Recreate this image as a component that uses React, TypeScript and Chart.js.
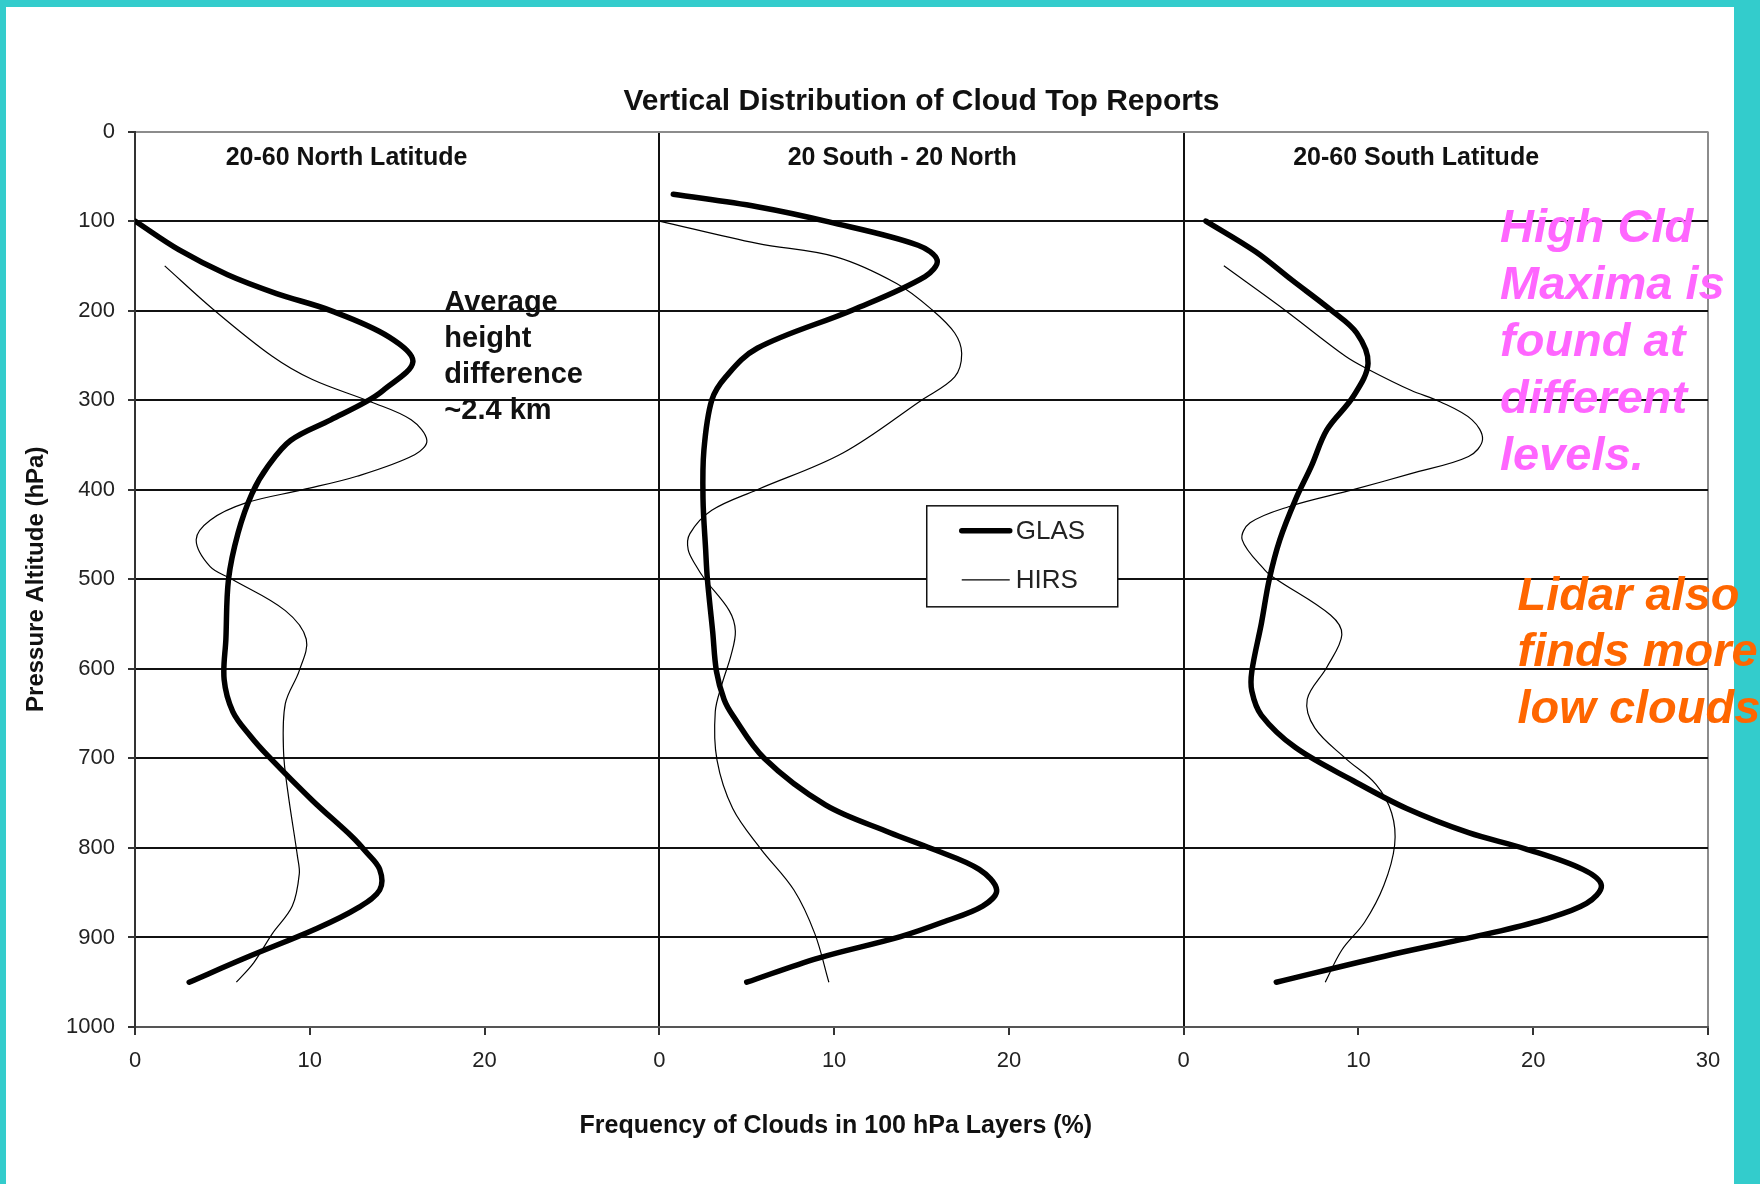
import React, { useEffect, useRef } from 'react';
import { Chart, registerables } from 'chart.js';

Chart.register(...registerables);

const CANVAS_W = 1760;
const CANVAS_H = 1184;
const FONT = '"Liberation Sans", Arial, Helvetica, sans-serif';
const PANEL_SPAN = 30; // each latitude band gets its own 0–30 % frequency window

// 20-60 North Latitude
const nhGlasPressure = [100, 132, 160, 181, 200, 229, 257, 289, 302, 322, 345, 374, 404, 448, 500, 567, 612, 648, 675, 697, 747, 788, 804, 824, 847, 867, 890, 923, 950];
const nhGlasFreq = [0, 2.5, 5.3, 8.1, 11.2, 14.5, 15.9, 14.2, 13.2, 11.2, 8.9, 7.6, 6.7, 5.9, 5.35, 5.2, 5.1, 5.6, 6.6, 7.6, 10.15, 12.45, 13.2, 14.0, 14.0, 12.75, 10.4, 6.3, 3.1];
const nhHirsPressure = [150, 199, 251, 277, 302, 322, 345, 361, 385, 400, 415, 434, 456, 486, 500, 535, 567, 602, 639, 693, 738, 810, 829, 865, 896, 928, 950];
const nhHirsFreq = [1.7, 4.5, 7.85, 10.15, 13.5, 15.8, 16.7, 16.0, 12.7, 9.6, 6.3, 4.3, 3.5, 4.3, 5.55, 8.6, 9.8, 9.4, 8.6, 8.5, 8.75, 9.3, 9.4, 9.0, 7.85, 6.8, 5.8];

// 20 South - 20 North
const trGlasPressure = [70, 84, 101, 127, 144, 162, 199, 242, 274, 300, 356, 411, 467, 500, 558, 603, 634, 652, 700, 752, 783, 801, 824, 847, 865, 883, 899, 923, 950];
const trGlasFreq = [0.8, 5.6, 9.7, 14.8, 15.9, 15.2, 11.1, 5.6, 3.8, 3.0, 2.55, 2.5, 2.65, 2.75, 3.05, 3.27, 3.7, 4.2, 6.0, 9.5, 13.2, 15.6, 18.3, 19.3, 18.5, 16.2, 13.8, 9.1, 5.0];
const trHirsPressure = [100, 125, 140, 170, 199, 225, 248, 274, 300, 359, 400, 423, 449, 467, 485, 500, 535, 558, 585, 616, 648, 702, 756, 801, 847, 896, 950];
const trHirsFreq = [0, 5.6, 10.1, 13.6, 15.6, 16.9, 17.3, 16.9, 15.0, 10.5, 5.6, 3.0, 1.75, 1.65, 2.1, 2.6, 4.0, 4.35, 4.1, 3.6, 3.2, 3.3, 4.2, 5.8, 7.7, 8.9, 9.7];

// 20-60 South Latitude
const shGlasPressure = [100, 134, 166, 199, 225, 259, 296, 333, 374, 411, 456, 500, 549, 603, 625, 652, 688, 725, 756, 783, 801, 824, 842, 862, 880, 896, 919, 950];
const shGlasFreq = [1.27, 4.1, 6.2, 8.4, 9.9, 10.55, 9.7, 8.2, 7.3, 6.4, 5.5, 4.9, 4.45, 3.9, 3.9, 4.45, 6.4, 9.7, 12.76, 16.3, 19.55, 22.84, 23.9, 23.05, 20.6, 17.36, 11.9, 5.3];
const shHirsPressure = [150, 199, 251, 266, 289, 302, 322, 344, 363, 382, 400, 419, 437, 456, 490, 500, 540, 562, 598, 634, 666, 700, 729, 761, 797, 842, 883, 914, 950];
const shHirsFreq = [2.3, 5.76, 9.26, 10.6, 13.0, 14.7, 16.5, 17.1, 16.3, 13.0, 9.7, 6.0, 3.8, 3.35, 4.66, 5.3, 8.4, 9.05, 8.2, 7.07, 7.5, 9.26, 11.0, 11.9, 12.07, 11.45, 10.35, 9.05, 8.1];

const panelTitles = ['20-60 North Latitude', '20 South - 20 North', '20-60 South Latitude'];
const seriesNames = ['GLAS', 'HIRS'];
const xTickLabels = ['0', '10', '20', '0', '10', '20', '0', '10', '20', '30'];
const yTickLabels = ['0', '100', '200', '300', '400', '500', '600', '700', '800', '900', '1000'];
const chartTitle = 'Vertical Distribution of Cloud Top Reports';
const xAxisTitle = 'Frequency of Clouds in 100 hPa Layers (%)';
const yAxisTitle = 'Pressure Altitude (hPa)';
const noteLines = ['Average', 'height', 'difference', '~2.4 km'];
const highCloudLines = ['High Cld', 'Maxima is', 'found at', 'different', 'levels.'];
const lowCloudLines = ['Lidar also', 'finds more', 'low clouds'];

const GLAS_WIDTH = 5.5;
const HIRS_WIDTH = 1.2;

function toPoints(pressure: number[], freq: number[], panel: number) {
  return pressure.map((p, i) => ({ x: panel * PANEL_SPAN + freq[i], y: p }));
}

const regionSeries = [
  { glas: [nhGlasPressure, nhGlasFreq], hirs: [nhHirsPressure, nhHirsFreq] },
  { glas: [trGlasPressure, trGlasFreq], hirs: [trHirsPressure, trHirsFreq] },
  { glas: [shGlasPressure, shGlasFreq], hirs: [shHirsPressure, shHirsFreq] },
];

function buildDatasets() {
  const sets: any[] = [];
  regionSeries.forEach((r, i) => {
    sets.push({
      label: `${seriesNames[1]} ${panelTitles[i]}`,
      data: toPoints(r.hirs[0], r.hirs[1], i),
      borderColor: '#000',
      borderWidth: HIRS_WIDTH,
      pointRadius: 0,
      tension: 0.35,
      fill: false,
    });
    sets.push({
      label: `${seriesNames[0]} ${panelTitles[i]}`,
      data: toPoints(r.glas[0], r.glas[1], i),
      borderColor: '#000',
      borderWidth: GLAS_WIDTH,
      borderCapStyle: 'round',
      borderJoinStyle: 'round',
      pointRadius: 0,
      tension: 0.35,
      fill: false,
    });
  });
  return sets;
}

const decorations = {
  id: 'decorations',
  beforeDraw(chart: any) {
    const { ctx } = chart;
    ctx.save();
    ctx.fillStyle = '#ffffff';
    ctx.fillRect(0, 0, chart.width, chart.height);
    // slide frame
    ctx.fillStyle = '#33CCCC';
    ctx.fillRect(0, 0, chart.width, 7);
    ctx.fillRect(0, 0, 6, chart.height);
    ctx.fillRect(1734, 0, chart.width - 1734, chart.height);
    ctx.restore();
  },
  afterDatasetsDraw(chart: any) {
    const { ctx, chartArea } = chart;
    const x = chart.scales.x;
    const y = chart.scales.y;
    ctx.save();

    // band headings
    ctx.fillStyle = '#111';
    ctx.font = `bold 25px ${FONT}`;
    ctx.textAlign = 'center';
    ctx.textBaseline = 'middle';
    const headingX = [12.1, 43.9, 73.3];
    panelTitles.forEach((t, i) => {
      ctx.fillText(t, x.getPixelForValue(headingX[i]), y.getPixelForValue(30));
    });

    // note on the northern band
    ctx.textAlign = 'left';
    ctx.textBaseline = 'alphabetic';
    ctx.font = `bold 29px ${FONT}`;
    const nx = x.getPixelForValue(17.7);
    const ny = y.getPixelForValue(201);
    noteLines.forEach((t, i) => ctx.fillText(t, nx, ny + i * 36));

    // legend
    const lx = x.getPixelForValue(45.3);
    const ly = y.getPixelForValue(418);
    const lw = 191;
    const lh = 101;
    ctx.fillStyle = '#fff';
    ctx.fillRect(lx, ly, lw, lh);
    ctx.strokeStyle = '#111';
    ctx.lineWidth = 1.5;
    ctx.strokeRect(lx, ly, lw, lh);
    ctx.font = `26px ${FONT}`;
    ctx.textBaseline = 'middle';
    const widths = [GLAS_WIDTH, HIRS_WIDTH];
    seriesNames.forEach((name, i) => {
      const rowY = ly + 25 + i * 49;
      ctx.beginPath();
      ctx.strokeStyle = '#000';
      ctx.lineWidth = widths[i];
      ctx.lineCap = i === 0 ? 'round' : 'butt';
      ctx.moveTo(lx + 35, rowY);
      ctx.lineTo(lx + 83, rowY);
      ctx.stroke();
      ctx.fillStyle = '#222';
      ctx.fillText(name, lx + 89, rowY + 1);
    });

    // x axis title
    ctx.fillStyle = '#111';
    ctx.font = `bold 25px ${FONT}`;
    ctx.textAlign = 'center';
    ctx.textBaseline = 'middle';
    ctx.fillText(xAxisTitle, x.getPixelForValue(40.1), chartArea.bottom + 99);

    // side remarks (they run over the frame on the right)
    ctx.textAlign = 'left';
    ctx.textBaseline = 'alphabetic';
    ctx.font = `italic bold 47px ${FONT}`;
    ctx.fillStyle = '#FF66FF';
    const hx = x.getPixelForValue(78.1);
    const hy = y.getPixelForValue(123);
    highCloudLines.forEach((t, i) => ctx.fillText(t, hx, hy + i * 57));
    ctx.fillStyle = '#FF6600';
    const ox = x.getPixelForValue(79.1);
    const oy = y.getPixelForValue(534);
    lowCloudLines.forEach((t, i) => ctx.fillText(t, ox, oy + i * 56.5));
    ctx.restore();
  },
};

export default function App() {
  const canvasRef = useRef<HTMLCanvasElement | null>(null);

  useEffect(() => {
    const canvas = canvasRef.current;
    if (!canvas) return;
    const chart = new Chart(canvas, {
      type: 'line',
      data: { datasets: buildDatasets() },
      plugins: [decorations],
      options: {
        responsive: false,
        animation: false,
        devicePixelRatio: 1,
        events: [],
        layout: { padding: { left: 6, right: 52, top: 0, bottom: 0 } },
        plugins: {
          legend: { display: false },
          tooltip: { enabled: false },
          title: {
            display: true,
            text: chartTitle,
            fullSize: false,
            color: '#111',
            font: { family: FONT, size: 30, weight: 'bold' },
            padding: { top: 84, bottom: 11.5 },
          },
        },
        scales: {
          x: {
            type: 'linear',
            min: 0,
            max: 3 * PANEL_SPAN,
            afterFit: (scale: any) => {
              scale.height = 157;
            },
            ticks: {
              stepSize: 10,
              autoSkip: false,
              maxRotation: 0,
              padding: 13,
              color: '#222',
              font: { family: FONT, size: 22 },
              callback: (_v: any, i: number) => xTickLabels[i],
            },
            grid: {
              lineWidth: 2,
              tickLength: 8,
              tickColor: '#333',
              color: (c: any) => {
                const v = c.tick ? c.tick.value : -1;
                if (v === PANEL_SPAN || v === 2 * PANEL_SPAN) return '#111';
                if (v === 3 * PANEL_SPAN) return '#8c8c8c';
                return 'rgba(0,0,0,0)';
              },
            },
            border: { display: true, color: '#555', width: 2 },
          },
          y: {
            type: 'linear',
            reverse: true,
            min: 0,
            max: 1000,
            afterFit: (scale: any) => {
              scale.width = 129;
            },
            ticks: {
              stepSize: 100,
              autoSkip: false,
              padding: 13,
              color: '#222',
              font: { family: FONT, size: 22 },
              callback: (v: any) => yTickLabels.find((l) => Number(l) === Number(v)) ?? '',
            },
            grid: {
              lineWidth: 2,
              tickLength: 7,
              tickColor: '#333',
              color: (c: any) => {
                const v = c.tick ? c.tick.value : -1;
                if (v === 0) return '#8c8c8c';
                if (v === 1000) return '#555';
                return '#111';
              },
            },
            border: { display: true, color: '#333', width: 2 },
            title: {
              display: true,
              text: yAxisTitle,
              color: '#111',
              font: { family: FONT, size: 24, weight: 'bold' },
              padding: { top: 15.6, bottom: 0 },
            },
          },
        },
      },
    } as any);
    return () => chart.destroy();
  }, []);

  return (
    <div style={{ position: 'absolute', left: 0, top: 0, width: CANVAS_W, height: CANVAS_H, background: '#fff' }}>
      <canvas ref={canvasRef} width={CANVAS_W} height={CANVAS_H} style={{ display: 'block' }} />
    </div>
  );
}
